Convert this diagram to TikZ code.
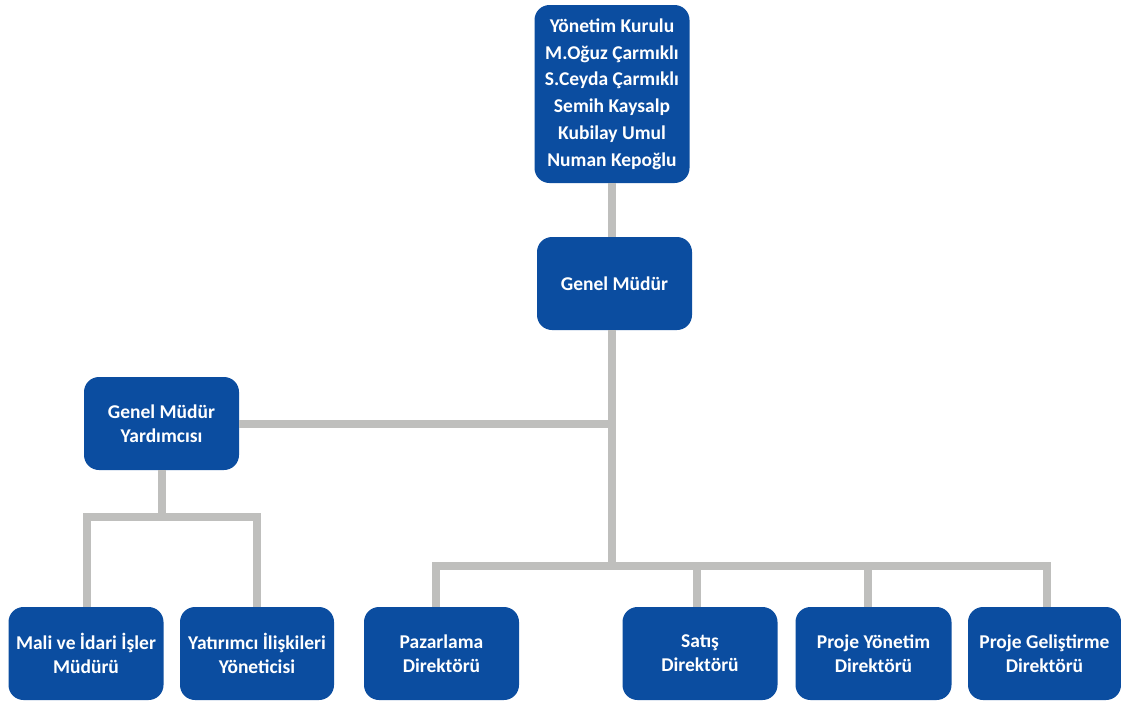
\documentclass[tikz,border=0pt]{standalone}
\usepackage{fontspec}
\setmainfont{Carlito}
\definecolor{boxblue}{RGB}{11,77,160}
\definecolor{linegray}{RGB}{191,191,189}
\begin{document}
\begin{tikzpicture}[x=1pt,y=-1pt,
  orgbox/.style={draw=none,fill=boxblue,rounded corners=15pt,inner sep=0pt,
    text=white,align=center,font=\bfseries\fontsize{19.5}{24}\selectfont},
  conn/.style={draw=linegray,line width=8pt}]
\useasboundingbox (0,0) rectangle (1121,702);
\fill[white] (0,0) rectangle (1121,702);
% nodes
\node[orgbox,minimum width=155pt,minimum height=178pt,font=\bfseries\fontsize{19.5}{26.8}\selectfont] (yk) at (612,94)
  {Yönetim Kurulu\\M.Oğuz Çarmıklı\\S.Ceyda Çarmıklı\\Semih Kaysalp\\Kubilay Umul\\Numan Kepoğlu};
\node[orgbox,minimum width=155pt,minimum height=93pt] (gm) at (614.5,283.5) {Genel Müdür};
\node[orgbox,minimum width=155pt,minimum height=93pt] (gmy) at (161.5,423.5) {Genel Müdür\\Yardımcısı};
\node[orgbox,minimum width=155pt,minimum height=93pt] (mali) at (86,653.5) {Mali ve İdari İşler\\Müdürü};
\node[orgbox,minimum width=154pt,minimum height=93pt] (yat) at (257,653.5) {Yatırımcı İlişkileri\\Yöneticisi};
\node[orgbox,minimum width=155pt,minimum height=93pt] (paz) at (441.5,653.5) {Pazarlama\\Direktörü};
\node[orgbox,minimum width=155pt,minimum height=93pt] (sat) at (700,653.5) {Satış\\Direktörü};
\node[orgbox,minimum width=156pt,minimum height=93pt] (pyd) at (873.5,653.5) {Proje Yönetim\\Direktörü};
\node[orgbox,minimum width=153pt,minimum height=93pt] (pgd) at (1044.5,653.5) {Proje Geliştirme\\Direktörü};
% junctions
\coordinate (j1) at (612,423.5);
\coordinate (j2) at (612,566);
\coordinate (jl) at (436,566);
\coordinate (jr) at (1047,566);
\coordinate (k1) at (162,517);
\coordinate (kl) at (87,517);
\coordinate (kr) at (257,517);
% connectors
\draw[conn] (yk.south -| j1) -- (gm.north -| j1);
\draw[conn] (gm.south -| j1) -- (j1) -- (j2);
\draw[conn] (gmy.east) -- (j1);
\draw[conn] (jl |- paz.north) -- (jl) -- (jr) -- (jr |- pgd.north);
\draw[conn] (sat.north -| 697,0) -- (697,566);
\draw[conn] (pyd.north -| 868,0) -- (868,566);
\draw[conn] (gmy.south -| k1) -- (k1);
\draw[conn] (kl |- mali.north) -- (kl) -- (kr) -- (kr |- yat.north);
\end{tikzpicture}
\end{document}
